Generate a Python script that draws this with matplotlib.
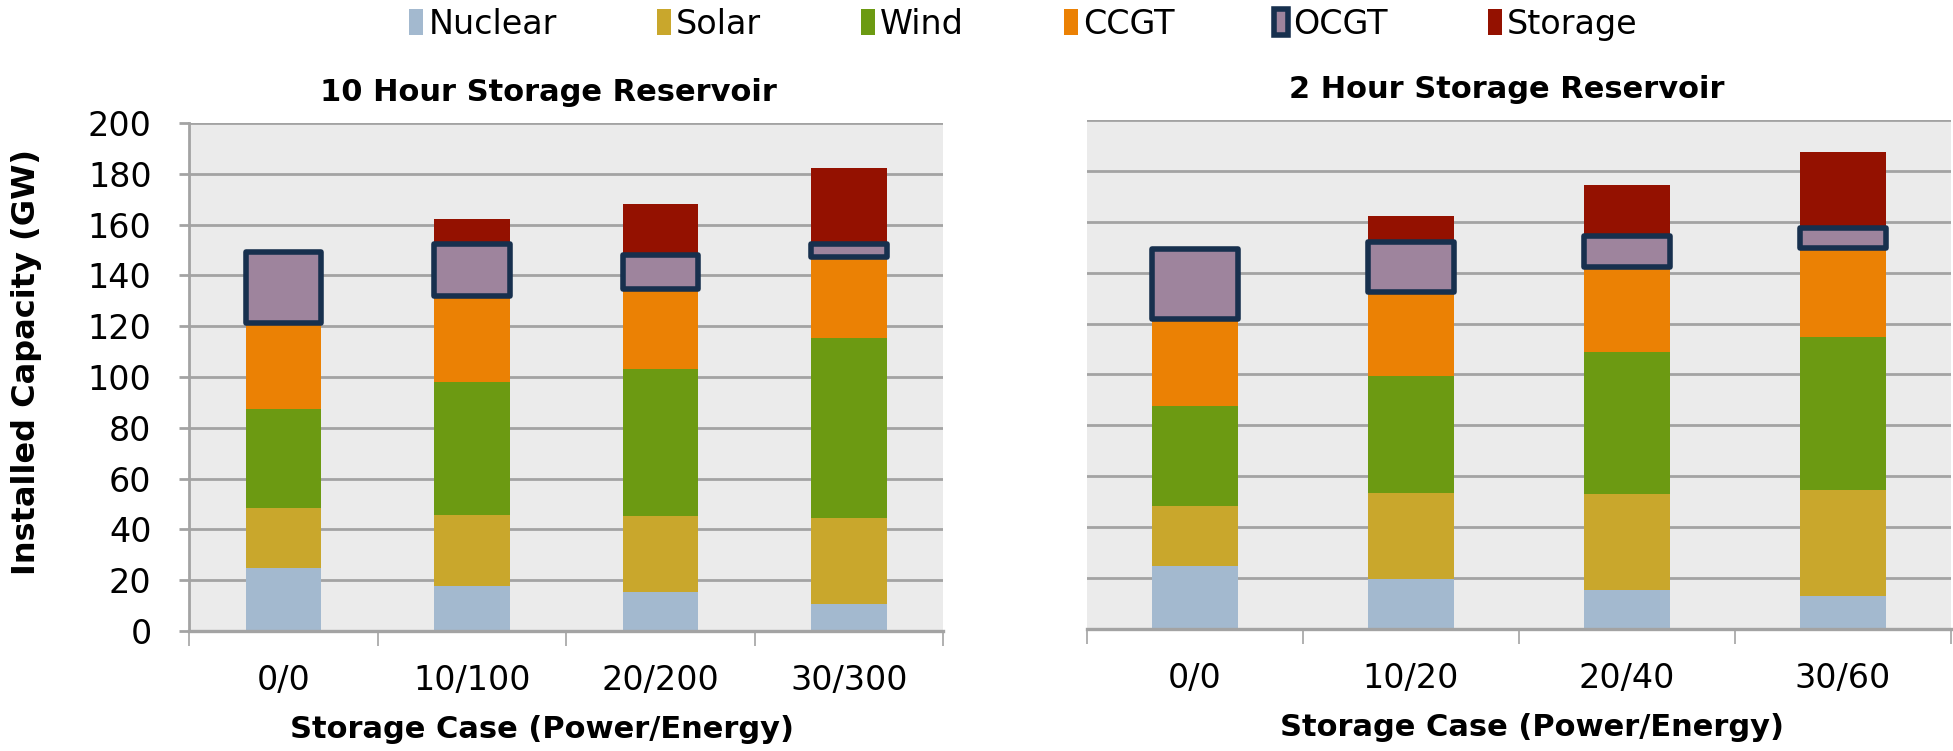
import numpy as np
import matplotlib
matplotlib.use("Agg")
import matplotlib.pyplot as plt

# values (GW)
techs = ['Nuclear', 'Solar', 'Wind', 'CCGT', 'OCGT', 'Storage']
colors = ['#A3B9CF', '#C9A72C', '#6C9A12', '#EB8104', '#9E849D', '#941100']

cases_10h = ['0/0', '10/100', '20/200', '30/300']
nuclear_10h = [24.8, 17.7, 15.5, 10.8]
solar_10h = [23.5, 28.0, 29.8, 33.5]
wind_10h = [39.2, 52.5, 57.7, 71.2]
ccgt_10h = [33.6, 33.5, 31.5, 31.9]
ocgt_10h = [28.2, 20.5, 13.5, 4.8]
storage_10h = [0, 10, 20, 30]

cases_2h = ['0/0', '10/20', '20/40', '30/60']
nuclear_2h = [24.8, 19.8, 15.3, 13.0]
solar_2h = [23.5, 33.8, 37.9, 41.6]
wind_2h = [39.2, 45.7, 55.5, 60.3]
ccgt_2h = [34.1, 33.1, 33.7, 34.9]
ocgt_2h = [27.8, 19.8, 11.9, 7.7]
storage_2h = [0, 10, 20, 30]

plt.rcParams['font.family'] = ['DejaVu Sans']
FS = 24      # tick labels / legend
FSB = 22     # bold titles / axis labels
GRID = '#A3A3A3'

fig = plt.figure(figsize=(19.53, 7.51), dpi=100)
ax1 = fig.add_axes([0.0968, 0.1598, 0.3861, 0.6764])
ax2 = fig.add_axes([0.5566, 0.1625, 0.4424, 0.6778])


def draw(ax, cases, series, title, show_y, title_x, xlabel_x):
    x = np.arange(len(cases))
    bottom = np.zeros(len(cases))
    handles = []
    for name, vals, col in zip(techs, series, colors):
        vals = np.array(vals, dtype=float)
        if name == 'OCGT':
            h = ax.bar(x, vals, 0.4, bottom=bottom, color=col, edgecolor='#17304E',
                       linewidth=4.0, joinstyle='round', zorder=4, label=name)
        else:
            h = ax.bar(x, vals, 0.4, bottom=bottom, color=col, linewidth=0,
                       zorder=3, label=name)
        handles.append(h)
        bottom += vals
    ax.set_facecolor('#EBEBEB')
    ax.set_xlim(-0.5, len(cases) - 0.5)
    ax.set_ylim(0, 200)
    ax.set_yticks(np.arange(0, 201, 20))
    ax.yaxis.grid(True, color=GRID, linewidth=2.0)
    ax.set_axisbelow(True)
    for s in ['top', 'right']:
        ax.spines[s].set_visible(False)
    ax.spines['bottom'].set_color(GRID)
    ax.spines['bottom'].set_linewidth(2.4)
    ax.spines['bottom'].set_zorder(5)
    ax.set_xticks(x)
    ax.set_xticklabels(cases, fontsize=FS)
    ax.tick_params(axis='x', which='major', length=0, pad=24)
    ax.set_xticks(np.arange(-0.5, len(cases)), minor=True)
    ax.tick_params(axis='x', which='minor', length=11, width=1.2, color=GRID)
    if show_y:
        ax.spines['left'].set_color(GRID)
        ax.spines['left'].set_linewidth(2.0)
        ax.tick_params(axis='y', length=7, width=2.0, color=GRID, pad=20, labelsize=FS)
        ax.set_ylabel('Installed Capacity (GW)', fontsize=FSB + 1, fontweight='bold')
        ax.yaxis.set_label_coords(-0.195, 0.53)
    else:
        ax.spines['left'].set_visible(False)
        ax.tick_params(axis='y', length=0, labelleft=False)
    ax.set_title(title, fontsize=FSB, fontweight='bold', x=title_x, pad=16)
    ax.set_xlabel('Storage Case (Power/Energy)', fontsize=FSB, fontweight='bold')
    ax.xaxis.set_label_coords(xlabel_x, -0.165)
    return handles


handles = draw(ax1, cases_10h,
               [nuclear_10h, solar_10h, wind_10h, ccgt_10h, ocgt_10h, storage_10h],
               '10 Hour Storage Reservoir', True, 0.476, 0.468)
draw(ax2, cases_2h,
     [nuclear_2h, solar_2h, wind_2h, ccgt_2h, ocgt_2h, storage_2h],
     '2 Hour Storage Reservoir', False, 0.486, 0.515)

fig.legend(handles, techs, loc='center', bbox_to_anchor=(0.524, 0.968), ncol=6,
           frameon=False, fontsize=FS, handlelength=0.42, handleheight=0.85,
           handletextpad=0.15, columnspacing=3.0)

fig.savefig('out.png', dpi=100)
